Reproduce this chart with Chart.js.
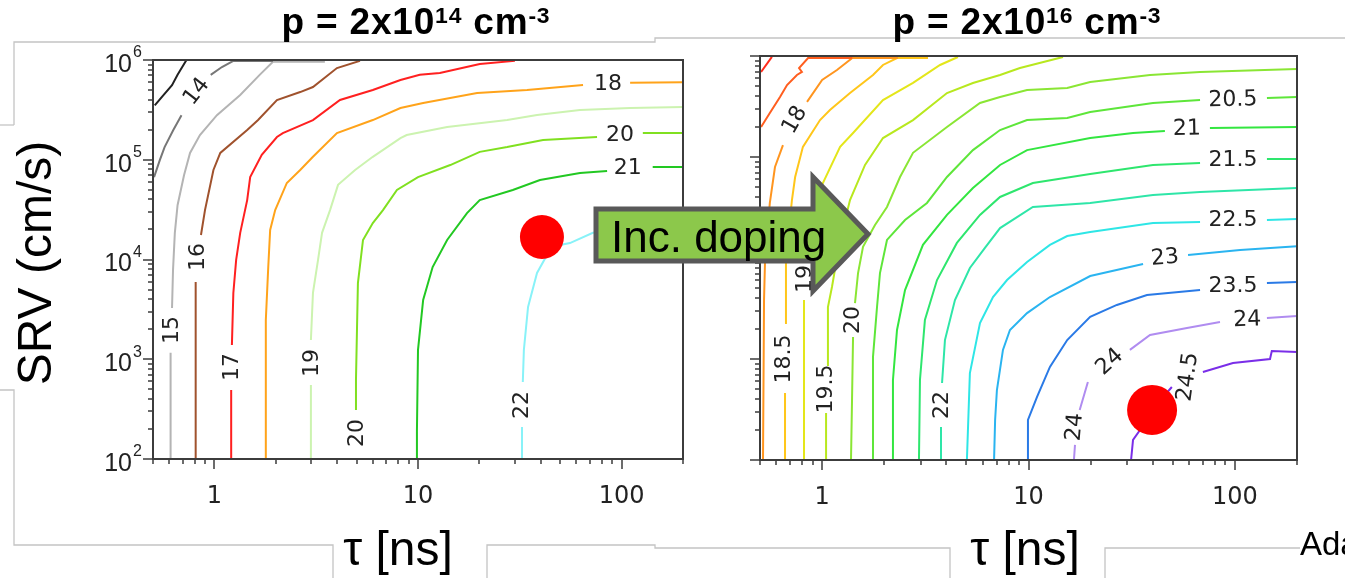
<!DOCTYPE html>
<html><head><meta charset="utf-8">
<script src="https://cdn.jsdelivr.net/npm/chart.js@4.4.1/dist/chart.umd.min.js"></script>
<style>
html,body{margin:0;padding:0;background:#fff;width:1345px;height:578px;overflow:hidden;position:relative;font-family:"Liberation Sans",Arial,sans-serif;}
#bg{position:absolute;left:0;top:0;z-index:0}
#cL{position:absolute;left:0;top:0;z-index:1}
#cR{position:absolute;left:700px;top:0;z-index:1}
#arrow{position:absolute;left:0;top:0;z-index:2}
.title{position:absolute;top:2px;width:500px;text-align:center;font-weight:bold;font-size:37px;line-height:40px;letter-spacing:0.8px;color:#000;z-index:3;white-space:nowrap}
.title .sup{font-size:0.62em;vertical-align:0.5em;line-height:0}
.axt{position:absolute;font-size:48px;line-height:56px;color:#000;z-index:3;white-space:nowrap;text-align:center}
</style></head>
<body>
<svg id="bg" width="1345" height="578">
 <g stroke="#c4c4c4" stroke-width="1.3" fill="none">
  <polyline points="14,125 14,42 655,42 655,38 1345,38"/>
  <line x1="0" y1="125" x2="14" y2="125"/>
  <polyline points="0,390 14,390 14,545 333,545 333,578"/>
  <polyline points="487,578 487,545 655,545 655,548 950,548 950,578"/>
  <polyline points="1105,578 1105,548 1300,548"/>
 </g>
</svg>
<canvas id="cL" width="700" height="578"></canvas>
<canvas id="cR" width="645" height="578"></canvas>
<svg id="arrow" width="1345" height="578">
 <polygon points="596,209 813,209 813,177 868,234 813,291 813,261 596,261" fill="#8cc84b" stroke="#595959" stroke-width="5" stroke-linejoin="miter"/>
 <text x="611" y="252" font-family="Liberation Sans, Arial, sans-serif" font-size="44" fill="#000">Inc. doping</text>
</svg>
<div class="title" style="left:166px">p = 2x10<span class="sup">14</span> cm<span class="sup">-3</span></div>
<div class="title" style="left:777px">p = 2x10<span class="sup">16</span> cm<span class="sup">-3</span></div>
<div class="axt" style="left:-115px;top:235px;width:300px;transform:rotate(-90deg)">SRV (cm/s)</div>
<div class="axt" style="left:248px;top:521px;width:300px">τ [ns]</div>
<div class="axt" style="left:875px;top:521px;width:300px">τ [ns]</div>
<div class="axt" style="left:1300px;top:525px;font-size:33px;line-height:38px;text-align:left">Ada</div>
<script>
// ---------- axis ticks ----------
const X_MAJOR = [1, 10, 100];
const X_LABELS = ['1', '10', '100'];
const X_MINOR = [0.5,0.6,0.7,0.8,0.9,2,3,4,5,6,7,8,9,20,30,40,50,60,70,80,90,200];
const Y_MAJOR = [1e2, 1e3, 1e4, 1e5, 1e6];
const Y_EXP = ['2', '3', '4', '5', '6'];
const Y_MINOR = [2e2,3e2,4e2,5e2,6e2,7e2,8e2,9e2,2e3,3e3,4e3,5e3,6e3,7e3,8e3,9e3,
                 2e4,3e4,4e4,5e4,6e4,7e4,8e4,9e4,2e5,3e5,4e5,5e5,6e5,7e5,8e5,9e5];

// ---------- left panel (p = 2x10^14): contours [tau ns, SRV cm/s]; null = label gap ----------
const L_LEVELS = ['13','14','15','16','17','18','19','20','21','22'];
const L13 = [[0.51,3.5e5],[0.56,4.4e5],[0.62,5.6e5],[0.66,7.1e5],[0.73,1e6]];
const L14 = [[0.506,6.7e4],[0.54,9.9e4],[0.57,1.34e5],[0.63,2.0e5],[0.69,2.8e5],null,[0.96,7.1e5],[1.09,8.5e5],[1.24,9.8e5],[1.94,9.8e5]];
const L15 = [[0.61,100],[0.61,1160],null,[0.62,3270],[0.627,7850],[0.64,1.85e4],[0.66,3.5e4],[0.71,7.0e4],[0.76,1.17e5],[0.85,1.77e5],[1.03,2.8e5],[1.34,4.46e5],[1.67,7.1e5],[1.94,9.6e5],[3.49,9.6e5]];
const L16 = [[0.81,100],[0.81,5940],null,[0.86,1.76e4],[0.90,3.13e4],[0.99,7.9e4],[1.07,1.17e5],[1.45,1.99e5],[1.64,2.5e5],[2.03,3.97e5],[2.64,4.77e5],[3.05,5.36e5],[4.0,8.3e5],[5.19,9.8e5]];
const L17 = [[1.21,100],[1.21,492],null,[1.22,1390],[1.24,4620],[1.28,9900],[1.34,1.85e4],[1.45,3.94e4],[1.50,6.7e4],[1.71,1.12e5],[2.03,1.69e5],[2.17,1.85e5],[3.05,2.5e5],[4.14,3.97e5],[6.0,5.0e5],[8.2,6.3e5],[10.2,7.1e5],[12.8,7.4e5],[20.1,9.1e5],[29.9,9.8e5]];
const L18 = [[1.79,100],[1.79,2470],[1.84,8400],[1.88,1.98e4],[1.99,3.13e4],[2.27,5.85e4],[2.64,7.9e4],[3.05,1.07e5],[4.0,1.85e5],[6.0,2.5e5],[8.2,3.3e5],[10.6,3.7e5],[19.5,4.67e5],[34.3,5.0e5],[64.6,5.6e5],null,[110,5.9e5],[200,6.0e5]];
const L19 = [[2.98,100],[2.98,552],null,[2.98,1560],[3.05,4620],[3.23,9900],[3.38,1.85e4],[3.70,3.13e4],[4.05,5.6e4],[4.91,7.9e4],[6.0,1.07e5],[8.2,1.65e5],[8.8,1.77e5],[13.9,2.13e5],[27.4,2.5e5],[38.4,2.81e5],[62.4,3.15e5],[110,3.3e5],[200,3.38e5]];
const L20 = [[4.96,310],[4.96,620],[5.07,5800],[5.37,1.57e4],[6.0,2.32e4],[6.73,3.13e4],[7.88,4.98e4],[10.0,6.7e4],[14.4,8.85e4],[20.1,1.2e5],[27.4,1.34e5],[41.1,1.58e5],[75.7,1.69e5],null,[127,1.85e5],[200,1.85e5]];
const L21 = [[9.88,100],[9.88,190],[10.0,1240],[10.6,3930],[11.8,8400],[13.9,1.57e4],[17.4,2.92e4],[20.1,3.94e4],[29.2,4.98e4],[39.7,6.27e4],[62.4,7.37e4],[84.8,7.7e4],null,[142,8.45e4],[200,8.45e4]];
const L22 = [[32.4,100],[32.4,209],null,[32.7,592],[33.1,1240],[34.7,3340],[38.4,7330],[43.0,1.11e4],[49.8,1.4e4],[55.7,1.46e4],[72.2,1.85e4],[98,1.98e4],[200,2.07e4]];
const L_LABEL_TEXT = ['14','15','16','17','18','19','20','20','21','22'];
const L_LABEL_TAU  = [0.82, 0.62, 0.83, 1.22, 85.7, 3.02, 5.02, 98, 107, 32.4];
const L_LABEL_SRV  = [4.8e5, 1960, 1.06e4, 836, 5.74e5, 917, 182, 1.77e5, 8.26e4, 348];
const L_DOT = [40.6, 1.68e4];

// ---------- right panel (p = 2x10^16) ----------
const R_LEVELS = ['17','17.5','18','18.5','19','19.5','20','20.5','21','21.5','22','22.5','23','23.5','24','24.5'];
const R17   = [[0.506,6.95e5],[0.571,9.8e5]];
const R17_5 = [[0.506,1.98e5],[0.558,2.73e5],[0.625,3.93e5],[0.676,5.16e5],[0.755,6.49e5],[0.798,6.95e5],[0.773,7.6e5],[0.855,9.55e5],[1.40,9.55e5]];
const R18   = [[0.517,100],[0.523,3840],[0.529,9550],[0.558,3.51e4],[0.591,7.96e4],[0.646,1.31e5],null,[0.845,3.51e5],[1.0,5.78e5],[1.18,7.26e5],[1.40,9.55e5],[2.33,9.55e5]];
const R18_5 = [[0.661,100],[0.661,460],null,[0.661,2270],[0.668,9550],[0.714,3.75e4],[0.740,6.34e4],[0.807,1.26e5],[0.977,2.32e5],[1.091,2.92e5],[1.365,4.30e5],[1.764,6.49e5],[1.972,8.15e5],[2.306,9.55e5],[3.258,9.55e5]];
const R19   = [[0.817,100],[0.817,3840],null,[0.835,1.07e4],[0.894,1.89e4],[0.998,5.28e4],[1.222,1.26e5],[1.412,1.73e5],[1.972,3.66e5],[2.757,5.41e5],[3.727,8.15e5],[4.55,9.78e5]];
const R19_5 = [[1.045,100],[1.045,292],null,[1.056,873],[1.067,3270],[1.116,5160],[1.222,1.51e4],[1.365,3.75e4],[1.614,8.34e4],[1.972,1.54e5],[2.757,2.32e5],[4.027,4.30e5],[5.38,5.41e5],[7.28,6.49e5],[9.09,7.6e5],[14.7,9.78e5]];
const R20   = [[1.380,100],[1.396,393],[1.412,1650],null,[1.443,3580],[1.493,7100],[1.578,1.29e4],[1.804,2.12e4],[2.062,3.20e4],[2.385,6.34e4],[2.757,1.10e5],[4.027,1.98e5],[5.82,3.43e5],[7.28,3.93e5],[9.84,4.60e5],[15.4,4.82e5],[19.9,5.53e5],[38.8,6.49e5],[67.8,6.95e5],[200,7.43e5]];
const R20_5 = [[1.746,100],[1.764,1050],[1.845,3270],[1.907,7100],[2.062,1.51e4],[2.522,2.38e4],[3.221,3.51e4],[4.027,6.34e4],[5.38,1.17e5],[7.28,1.85e5],[9.84,2.32e5],[15.4,2.43e5],[19.9,2.79e5],[40.1,3.43e5],[67.8,3.66e5],null,[143,3.84e5],[200,3.93e5]];
const R21   = [[2.181,100],[2.204,619],[2.306,1940],[2.522,4820],[3.080,1.35e4],[4.027,2.67e4],[5.38,4.93e4],[7.28,8.34e4],[9.84,1.17e5],[19.9,1.54e5],[32.1,1.73e5],[45.8,1.81e5],null,[75.7,1.94e5],[200,1.98e5]];
const R21_5 = [[2.946,100],[2.979,619],[3.148,2430],[3.603,6050],[4.498,1.41e4],[5.82,2.67e4],[7.28,4.02e4],[10.5,5.53e4],[19.9,6.79e4],[40.1,8.34e4],[67.8,8.72e4],null,[143,9.55e4],[200,9.55e4]];
const R22   = [[3.727,100],[3.767,212],null,[3.811,578],[3.937,1540],[4.402,3840],[5.20,7960],[6.15,1.26e4],[7.28,1.98e4],[10.5,3.20e4],[19.9,3.51e4],[40.1,4.21e4],[67.8,4.50e4],[200,4.93e4]];
const R22_5 = [[5.03,100],[5.20,726],[5.82,2270],[6.73,4110],[7.87,6050],[9.84,9120],[12.7,1.35e4],[15.4,1.65e4],[19.9,1.81e4],[40.1,2.22e4],[67.8,2.27e4],null,[143,2.38e4],[200,2.43e4]];
const R23   = [[6.81,100],[6.89,249],[7.03,493],[7.52,1230],[8.13,1940],[9.84,2850],[12.7,4110],[19.9,6630],[35.9,8720],null,[59.3,1.07e4],[106,1.20e4],[200,1.31e4]];
const R23_5 = [[9.84,100],[9.94,249],[11.0,421],[12.7,834],[15.4,1540],[19.9,2610],[26.8,3430],[37.5,4300],[67.8,4820],null,[143,5650],[200,5780]];
const R24   = [[16.6,100],[16.8,141],null,[17.7,313],[19.4,592],null,[31.0,1230],[38.8,1730],[58.6,2030],[84.7,2320],null,[143,2550],[200,2670]];
const R24_5 = [[31.4,100],[32.1,158],[34.7,198],[39.7,313],[45.8,440],[49.5,528],null,[70.0,743],[97.9,912],[148,1000],[151,1200],[200,1170]];
const R_LABEL_TEXT = ['18','18.5','19','19.5','20','20.5','21','21.5','22','22.5','23','23.5','24','24','24','24.5'];
const R_LABEL_TAU  = [0.74, 0.653, 0.826, 1.045, 1.412, 97.9, 58.6, 97.9, 3.811, 97.9, 45.8, 97.9, 16.8, 24.8, 115, 59.3];
const R_LABEL_SRV  = [2.32e5, 1000, 6200, 505, 2430, 3.66e5, 1.89e5, 9.33e4, 351, 2.38e4, 1.0e4, 5280, 212, 933, 2430, 664];
const R_DOT = [39.7, 313];

// ---------- styles ----------
const L_COLORS = ['#222222','#777777','#b4b4b4','#a0522d','#ff2020','#ffa31a','#ccf3b0','#80e020','#22c822','#88f2f8'];
const R_COLORS = ['#ff2a1a','#ff5e1f','#ff951f','#ffc61a','#e4e61a','#b8e81e','#8ae634','#5ee63a','#33e640','#2ee66e','#2ee6a8','#2ee6e6','#2ab4f0','#2a7ae6','#b08cf0','#7a2ee8'];
const L_ROT = [-52,-90,-90,-90,0,-90,-90,0,0,-90];
const R_ROT = [-60,-90,-90,-90,-90,-1,-1,0,-90,0,-5,0,-85,-42,-2,-82];

function pts(arr){
  const out = []; let last = null;
  arr.forEach(p => { if (p) { out.push({x:p[0], y:p[1]}); last = p; } else out.push({x:last[0], y:null}); });
  return out;
}
function contourSets(list, colors){
  return list.map((c,i) => ({data: pts(c), borderColor: colors[i], borderWidth: 2, pointRadius: 0, fill: false, tension: 0, spanGaps: false}));
}
function dotSet(d, r){
  return {data:[{x:d[0], y:d[1]}], showLine:false, pointRadius:r, pointHoverRadius:r, pointBackgroundColor:'#ff0000', pointBorderWidth:0, borderColor:'rgba(0,0,0,0)'};
}

const framePlugin = {
  id: 'frame',
  afterDatasetsDraw(chart, args, o){
    const {ctx, scales:{x, y}} = chart;
    ctx.save();
    ctx.fillStyle = '#222';
    ctx.font = '22px "DejaVu Sans", sans-serif';
    ctx.textAlign = 'center'; ctx.textBaseline = 'middle';
    o.text.forEach((t, i) => {
      ctx.save();
      ctx.translate(x.getPixelForValue(o.tau[i]), y.getPixelForValue(o.srv[i]));
      ctx.rotate(o.rot[i] * Math.PI / 180);
      ctx.fillText(t, 0, 0);
      ctx.restore();
    });
    ctx.restore();
  },
  afterDraw(chart, args, o){
    const {ctx, chartArea:a, scales:{x, y}} = chart;
    ctx.save();
    ctx.strokeStyle = '#3c3c3c'; ctx.lineWidth = 2;
    ctx.strokeRect(a.left, a.top, a.right - a.left, a.bottom - a.top);
    ctx.lineWidth = 1.5;
    ctx.beginPath();
    X_MAJOR.forEach(v => { const p = Math.round(x.getPixelForValue(v)); ctx.moveTo(p, a.bottom); ctx.lineTo(p, a.bottom + 10); });
    X_MINOR.forEach(v => { const p = Math.round(x.getPixelForValue(v)); ctx.moveTo(p, a.bottom); ctx.lineTo(p, a.bottom + 5); });
    Y_MAJOR.forEach(v => { const p = Math.round(y.getPixelForValue(v)); ctx.moveTo(a.left, p); ctx.lineTo(a.left - 10, p); });
    Y_MINOR.forEach(v => { const p = Math.round(y.getPixelForValue(v)); ctx.moveTo(a.left, p); ctx.lineTo(a.left - 5, p); });
    ctx.stroke();
    ctx.fillStyle = '#222';
    ctx.font = '24px "DejaVu Sans", sans-serif';
    ctx.textAlign = 'center'; ctx.textBaseline = 'middle';
    X_MAJOR.forEach((v, i) => ctx.fillText(X_LABELS[i], x.getPixelForValue(v), a.bottom + 38));
    if (o.yLabels) {
      Y_MAJOR.forEach((v, i) => {
        const p = y.getPixelForValue(v);
        ctx.font = '25px "Liberation Sans", Arial, sans-serif';
        ctx.textAlign = 'right'; ctx.textBaseline = 'middle';
        ctx.fillText('10', a.left - 21, p + 5);
        ctx.font = '16px "Liberation Sans", Arial, sans-serif';
        ctx.textAlign = 'left';
        ctx.fillText(Y_EXP[i], a.left - 20, p - 7);
      });
    }
    ctx.restore();
  }
};

function makeChart(id, sets, pad, lab){
  return new Chart(document.getElementById(id), {
    type: 'line',
    data: {datasets: sets},
    options: {
      responsive: false, animation: false, devicePixelRatio: 1,
      layout: {padding: pad, autoPadding: false},
      plugins: {legend: {display: false}, tooltip: {enabled: false}, frame: lab},
      scales: {
        x: {type: 'logarithmic', min: 0.5, max: 200, display: false},
        y: {type: 'logarithmic', min: 100, max: 1e6, display: false}
      }
    },
    plugins: [framePlugin]
  });
}

makeChart('cL',
  [dotSet(L_DOT, 22)].concat(contourSets([L13,L14,L15,L16,L17,L18,L19,L20,L21,L22], L_COLORS)),
  {left: 153, top: 60, right: 17, bottom: 119},
  {yLabels: true, text: L_LABEL_TEXT, tau: L_LABEL_TAU, srv: L_LABEL_SRV, rot: L_ROT});

makeChart('cR',
  [dotSet(R_DOT, 25)].concat(contourSets([R17,R17_5,R18,R18_5,R19,R19_5,R20,R20_5,R21,R21_5,R22,R22_5,R23,R23_5,R24,R24_5], R_COLORS)),
  {left: 60, top: 56, right: 48, bottom: 118},
  {yLabels: false, text: R_LABEL_TEXT, tau: R_LABEL_TAU, srv: R_LABEL_SRV, rot: R_ROT});
</script>
</body></html>
